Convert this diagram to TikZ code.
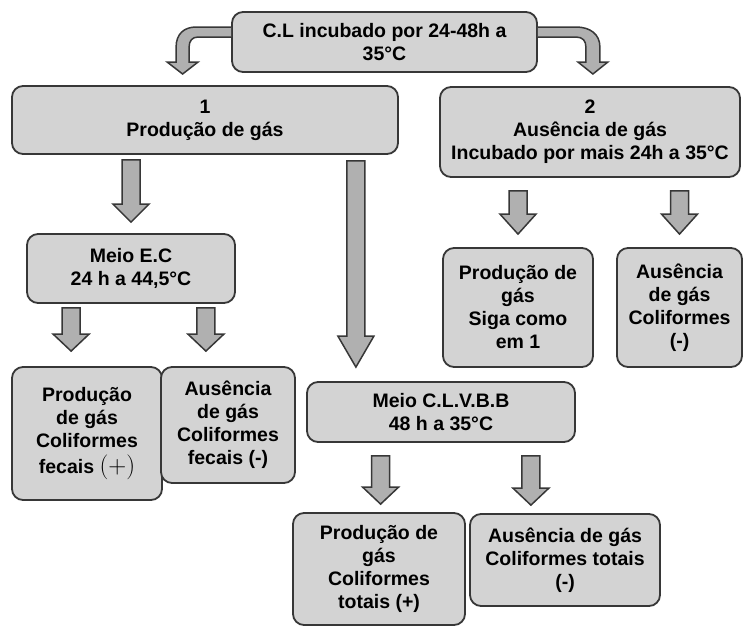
\documentclass[tikz,border=0pt]{standalone}
\usepackage{fontspec}
\setmainfont{Liberation Sans}
\usetikzlibrary{calc}
\definecolor{boxgray}{RGB}{211,211,211}
\definecolor{arrgray}{RGB}{176,176,176}
\definecolor{edgegray}{RGB}{55,55,55}
% seta larga: #2 = topo da haste, #3 = ponta (so o y conta)
\newcommand\fatarrow[3][18]{%
  \draw[fat] let \p1=#2, \p2=#3 in
    (\x1-9pt,\y1) -- (\x1-9pt,\y2+#1pt) -- (\x1-18pt,\y2+#1pt) -- (\x1,\y2)
    -- (\x1+18pt,\y2+#1pt) -- (\x1+9pt,\y2+#1pt) -- (\x1+9pt,\y1) -- cycle;}
\begin{document}
\begin{tikzpicture}[x=1pt, y=-1pt, line join=round,
  box/.style={draw=edgegray, fill=boxgray, line width=1.8pt, rounded corners=11pt,
    align=center, inner sep=0pt, font=\fontsize{19.5}{23}\selectfont\bfseries},
  fat/.style={draw=edgegray, fill=arrgray, line width=1.5pt, line join=miter}]
\useasboundingbox (0,0) rectangle (743,629);
\node[box, minimum width=305pt, minimum height=60pt] (top) at (384.5,42) {C.L incubado por 24-48h a\\35°C};
\node[box, minimum width=386pt, minimum height=68pt] (one) at (205,120) {1\\Produção de gás};
\node[box, minimum width=300pt, minimum height=90pt] (two) at (590,132) {2\\Ausência de gás\\Incubado por mais 24h a 35°C};
\node[box, minimum width=208pt, minimum height=69pt] (ec) at (131,268.5) {Meio E.C\\24 h a 44,5°C};
\node[box, minimum width=150pt, minimum height=133pt] (fecpos) at (87,433.5) {Produção\\de gás\\Coliformes\\[3pt]fecais {\mdseries\fontsize{25}{25}\selectfont$(+)$}};
\node[box, minimum width=134pt, minimum height=116pt] (fecneg) at (228,425) {Ausência\\de gás\\Coliformes\\fecais (-)};
\node[box, minimum width=268pt, minimum height=60pt] (clvbb) at (441,412) {Meio C.L.V.B.B\\48 h a 35°C};
\node[box, minimum width=172pt, minimum height=112pt] (totpos) at (379,569) {Produção de\\gás\\Coliformes\\totais (+)};
\node[box, minimum width=190pt, minimum height=92pt] (totneg) at (565,560) {Ausência de gás\\Coliformes totais\\(-)};
\node[box, minimum width=150pt, minimum height=119pt] (sigaum) at (518,307.5) {Produção de\\gás\\Siga como\\em 1};
\node[box, minimum width=125pt, minimum height=119pt] (colneg) at (679.5,307.5) {Ausência\\de gás\\Coliformes\\(-)};
% setas curvas do topo
\begin{scope}[shift={(top.west)}]
\draw[fat] (0,-15) -- (-35,-15) .. controls (-47,-15) and (-55,-8) .. (-55,5) -- (-55,20) -- (-64,20) -- (-48.5,32) -- (-33,20) -- (-42,20) -- (-42,5) .. controls (-42,-1) and (-39,-5) .. (-33,-5) -- (0,-5);
\end{scope}
\begin{scope}[shift={(top.east)}]
\draw[fat] (0,-15) -- (38,-15) .. controls (52,-15) and (62,-8) .. (62,5) -- (62,20) -- (70,20) -- (55,32) -- (40,20) -- (48,20) -- (48,5) .. controls (48,-1) and (45,-5) .. (38,-5) -- (0,-5);
\end{scope}
\fatarrow{($(one.south -| ec.north)+(0,5)$)}{($(ec.north)+(0,-11)$)}
\fatarrow[31]{($(one.south east)+(-43,6)$)}{($(clvbb.north)+(0,-14)$)}
\fatarrow[17]{($(ec.south west)+(45,4)$)}{($(fecpos.north)+(0,-15)$)}
\fatarrow[17]{($(ec.south east)+(-30,4)$)}{($(fecneg.north)+(0,-15)$)}
\fatarrow[17]{($(clvbb.south west)+(74.5,13)$)}{($(totpos.north)+(0,-8)$)}
\fatarrow[17]{($(clvbb.south east)+(-45,13)$)}{($(totneg.north)+(0,-8)$)}
\foreach \b in {sigaum,colneg}
  \fatarrow[20]{($(two.south -| \b.north)+(0,13)$)}{($(\b.north)+(0,-13)$)};
\end{tikzpicture}
\end{document}
